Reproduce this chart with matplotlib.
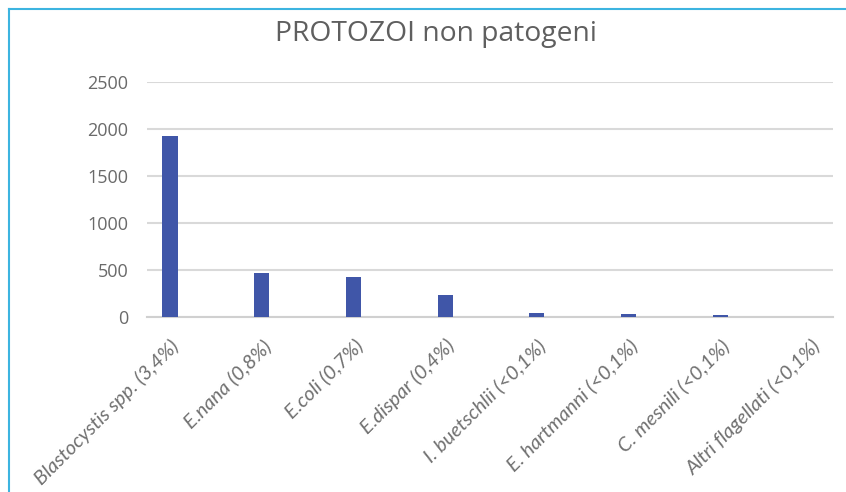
import matplotlib
matplotlib.use("Agg")
import matplotlib.pyplot as plt
from matplotlib.lines import Line2D

# Categories and counts
categorie = [
    "Blastocystis spp. (3,4%)",
    "E.nana (0,8%)",
    "E.coli (0,7%)",
    "E.dispar (0,4%)",
    "I. buetschlii (<0,1%)",
    "E. hartmanni (<0,1%)",
    "C. mesnili (<0,1%)",
    "Altri flagellati (<0,1%)",
]
valori = [1924, 473, 430, 234, 43, 32, 18, 3]
y_ticks = [0, 500, 1000, 1500, 2000, 2500]

fig = plt.figure(figsize=(8.46, 4.92), dpi=100)
fig.patch.set_facecolor("white")
ax = fig.add_axes([0.1738, 0.3557, 0.8108, 0.4776])

x = list(range(len(categorie)))
ax.bar(x, valori, width=0.165, color="#4056A8", zorder=3)

ax.set_ylim(0, 2500)
ax.set_xlim(-0.25, 7.23)
ax.set_yticks(y_ticks)
ax.set_yticklabels([str(v) for v in y_ticks], fontfamily="Open Sans",
                   fontsize=13, color="#6a6a6a")
ax.tick_params(axis="y", length=0, pad=13.5)
ax.tick_params(axis="x", length=0, pad=14)
ax.set_xticks(x)
ax.set_xticklabels(categorie, rotation=45, ha="right", rotation_mode="anchor",
                   fontfamily="Lato", style="italic", fontsize=14.5,
                   color="#707070")

ax.grid(axis="y", color="#d9d9d9", linewidth=1.5, zorder=0)
for s in ["top", "right", "left"]:
    ax.spines[s].set_visible(False)
ax.spines["bottom"].set_color("#d0d0d0")
ax.spines["bottom"].set_linewidth(1.5)

fig.text(0.515, 0.93, "PROTOZOI non patogeni", ha="center", va="center",
         fontfamily="Open Sans", fontsize=20.3, color="#5f5f5f")

# light blue frame on the left and top
fig.add_artist(Line2D([0.0106, 0.0106], [0, 0.981], color="#3cb4e0",
                      linewidth=1.5, transform=fig.transFigure))
fig.add_artist(Line2D([0.0106, 1.0], [0.981, 0.981], color="#3cb4e0",
                      linewidth=1.5, transform=fig.transFigure))

fig.savefig("out.png", dpi=100)
